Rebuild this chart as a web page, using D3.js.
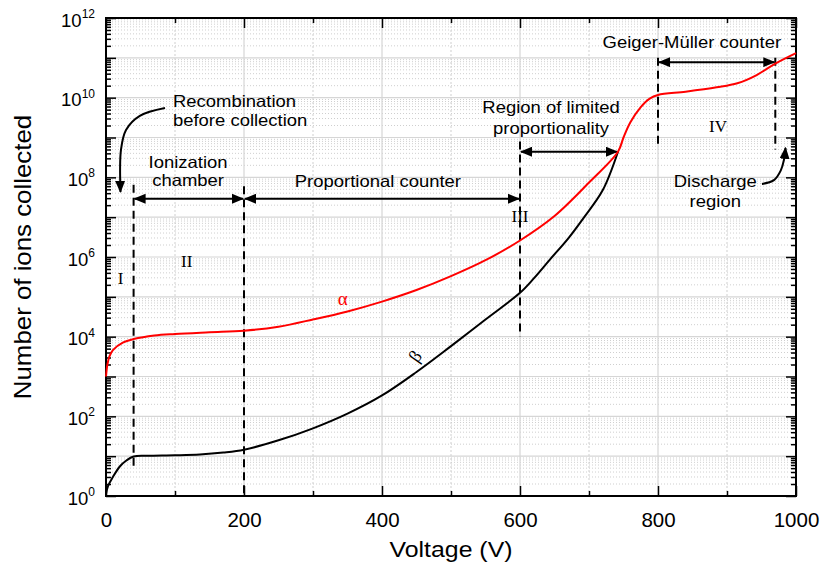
<!DOCTYPE html>
<html>
<head>
<meta charset="utf-8">
<script src="https://cdn.jsdelivr.net/npm/d3@7"></script>
<style>
  body { margin: 0; background: #fff; }
  svg { display: block; font-family: "Liberation Sans", Arial, sans-serif; }
</style>
</head>
<body>
<div id="chart"></div>
<script>
// Gas-filled detector regions: ions collected vs. applied voltage (log y).
var alphaVolt = [0, 2, 5, 10, 25, 40, 70, 100, 150, 200, 250, 300, 350, 400, 450, 500, 550,
                 600, 650, 700, 742, 750, 760, 775, 788, 800, 840, 885, 915, 943, 970, 1000];
var alphaIons = [1.0e3, 2.0e3, 3.2e3, 4.6e3, 7.2e3, 8.7e3, 1.07e4, 1.17e4, 1.29e4, 1.41e4,
                 1.78e4, 2.7e4, 4.3e4, 7.6e4, 1.48e5, 3.3e5, 8.3e5, 2.6e6, 1.07e7, 7.4e7,
                 4.4e8, 1.0e9, 2.4e9, 5.8e9, 9.5e9, 1.17e10, 1.41e10, 1.82e10, 2.3e10,
                 3.7e10, 7.2e10, 1.32e11];

var betaVolt = [0, 3, 10, 20, 30, 40, 60, 100, 136, 170, 200, 250, 300, 350, 400, 450, 500,
                550, 600, 620, 643, 670, 692, 720, 742];
var betaIons = [1.12, 1.8, 3.0, 5.5, 7.9, 9.8, 10.2, 10.5, 11.0, 12.3, 14.5, 25, 50, 117, 335,
                1.3e3, 5.8e3, 2.7e4, 1.26e5, 2.9e5, 8.5e5, 2.95e6, 9.5e6, 4.8e7, 4.4e8];

var xMajor = [0, 200, 400, 600, 800, 1000];
var xMinor = [100, 300, 500, 700, 900];
var yExponents = [0, 1, 2, 3, 4, 5, 6, 7, 8, 9, 10, 11, 12];
var yLabelExponents = [0, 2, 4, 6, 8, 10, 12];

// region boundaries (dashed): voltage, top and bottom in ion counts
var boundaryVolt = [40, 200, 600, 800, 970];
var boundaryTop = [6.5e7, 6.0e7, 7.9e8, 1.0e11, 1.0e11];
var boundaryBottom = [5.0, 1, 1.0e4, 5.2e8, 5.0e8];

// double-headed span arrows: from, to, level
var spanFrom = [40, 200, 600, 800];
var spanTo = [200, 600, 742, 970];
var spanLevel = [2.9e7, 2.9e7, 4.4e8, 7.8e10];

// annotation texts: lines, voltage, ion count (baseline), anchor
var notes = [
  { text: "Recombination", v: 97, n: 5.9e9, anchor: "start" },
  { text: "before collection", v: 97, n: 2.0e9, anchor: "start" },
  { text: "Ionization", v: 119, n: 1.7e8, anchor: "middle" },
  { text: "chamber", v: 119, n: 5.9e7, anchor: "middle" },
  { text: "Proportional counter", v: 394, n: 5.6e7, anchor: "middle" },
  { text: "Region of limited", v: 645, n: 4.2e9, anchor: "middle" },
  { text: "proportionality", v: 645, n: 1.23e9, anchor: "middle" },
  { text: "Geiger-Müller counter", v: 849, n: 1.78e11, anchor: "middle" },
  { text: "Discharge", v: 883, n: 5.8e7, anchor: "middle" },
  { text: "region", v: 883, n: 1.78e7, anchor: "middle" }
];
var romanText = ["I", "II", "III", "IV"];
var romanVolt = [21, 117, 600, 887];
var romanIons = [2.1e5, 5.5e5, 7.4e6, 1.35e9];

// curved pointer arrows (voltage, ion count)
var recombArrow = [[85.5, 5.5e9], [49, 3.5e9], [29, 1.55e9], [21.7, 4.9e8], [21, 4.3e7]];
var dischargeArrow = [[950.7, 6.8e7], [968, 8.5e7], [978, 1.5e8], [982.6, 2.75e8], [984.8, 5.5e8]];

var W = 821, H = 568;
var m = { top: 18, right: 25, bottom: 72, left: 106 };

var svg = d3.select("#chart").append("svg").attr("width", W).attr("height", H);

var x = d3.scaleLinear().domain([0, 1000]).range([m.left, W - m.right]);
var y = d3.scaleLog().domain([1, 1e12]).range([H - m.bottom, m.top]);

var yMajorVals = yExponents.map(function (e) { return Math.pow(10, e); });
var yMinorVals = [];
yExponents.slice(0, -1).forEach(function (e) {
  for (var k = 2; k <= 9; k++) yMinorVals.push(k * Math.pow(10, e));
});

var defs = svg.append("defs");
defs.append("marker")
  .attr("id", "head").attr("viewBox", "0 0 12 10")
  .attr("refX", 11).attr("refY", 5)
  .attr("markerWidth", 12).attr("markerHeight", 10)
  .attr("markerUnits", "userSpaceOnUse")
  .attr("orient", "auto-start-reverse")
  .append("path").attr("d", "M0,0L12,5L0,10Z").attr("fill", "#000");

// -- grid ---------------------------------------------------------------
var grid = svg.append("g");
grid.selectAll(".ymin").data(yMinorVals).join("line")
  .attr("x1", x(0)).attr("x2", x(1000))
  .attr("y1", y).attr("y2", y)
  .attr("stroke", "#cfcfcf").attr("stroke-width", 1).attr("stroke-dasharray", "1,2");
grid.selectAll(".xmin").data(xMinor).join("line")
  .attr("x1", x).attr("x2", x)
  .attr("y1", y(1)).attr("y2", y(1e12))
  .attr("stroke", "#cfcfcf").attr("stroke-width", 1).attr("stroke-dasharray", "2,2");
grid.selectAll(".ymaj").data(yMajorVals).join("line")
  .attr("x1", x(0)).attr("x2", x(1000))
  .attr("y1", y).attr("y2", y)
  .attr("stroke", "#d6d6d6").attr("stroke-width", 1.2);
grid.selectAll(".xmaj").data(xMajor).join("line")
  .attr("x1", x).attr("x2", x)
  .attr("y1", y(1)).attr("y2", y(1e12))
  .attr("stroke", "#d6d6d6").attr("stroke-width", 1.2);

// -- axes: all ticks point inward --------------------------------------
function noDomain(g) { g.select(".domain").remove(); g.selectAll("line").attr("stroke-width", 1.5); }

svg.append("g").attr("transform", "translate(0," + y(1) + ")")
  .call(d3.axisBottom(x).tickValues(xMinor).tickSize(-5).tickFormat(""))
  .call(noDomain);
svg.append("g").attr("transform", "translate(0," + y(1) + ")")
  .call(d3.axisBottom(x).tickValues(xMajor).tickSize(-10).tickPadding(16).tickFormat(d3.format("d")))
  .call(noDomain)
  .call(function (g) {
    g.selectAll("text").attr("font-size", 20.5).attr("fill", "#000")
      .attr("font-family", "Liberation Sans, Arial, sans-serif");
  });
svg.append("g").attr("transform", "translate(0," + y(1e12) + ")")
  .call(d3.axisTop(x).tickValues(xMinor).tickSize(-5).tickFormat(""))
  .call(noDomain);
svg.append("g").attr("transform", "translate(0," + y(1e12) + ")")
  .call(d3.axisTop(x).tickValues(xMajor).tickSize(-10).tickFormat(""))
  .call(noDomain);

[[d3.axisLeft, x(0)], [d3.axisRight, x(1000)]].forEach(function (a) {
  svg.append("g").attr("transform", "translate(" + a[1] + ",0)")
    .call(a[0](y).tickValues(yMinorVals).tickSize(-5).tickFormat(""))
    .call(noDomain);
  svg.append("g").attr("transform", "translate(" + a[1] + ",0)")
    .call(a[0](y).tickValues(yMajorVals).tickSize(-10).tickFormat(""))
    .call(noDomain);
});

var yLabels = svg.append("g");
yLabelExponents.forEach(function (e) {
  var t = yLabels.append("text")
    .attr("x", x(0) - 11).attr("y", y(Math.pow(10, e)) + 8.5)
    .attr("text-anchor", "end").attr("fill", "#000");
  t.append("tspan").attr("font-size", 18.5).text("10");
  t.append("tspan").attr("font-size", 12).attr("dy", -8.5).text(e);
});

svg.append("rect")
  .attr("x", x(0)).attr("y", y(1e12))
  .attr("width", x(1000) - x(0)).attr("height", y(1) - y(1e12))
  .attr("fill", "none").attr("stroke", "#000").attr("stroke-width", 2);

// -- boundaries and span arrows ---------------------------------------
svg.append("g").selectAll("line").data(boundaryVolt).join("line")
  .attr("x1", x).attr("x2", x)
  .attr("y1", function (d, i) { return y(boundaryTop[i]); })
  .attr("y2", function (d, i) { return y(boundaryBottom[i]); })
  .attr("stroke", "#000").attr("stroke-width", 2).attr("stroke-dasharray", "8,5");

svg.append("g").selectAll("line").data(spanFrom).join("line")
  .attr("x1", function (d) { return x(d) + 1; })
  .attr("x2", function (d, i) { return x(spanTo[i]) - 1; })
  .attr("y1", function (d, i) { return y(spanLevel[i]); })
  .attr("y2", function (d, i) { return y(spanLevel[i]); })
  .attr("stroke", "#000").attr("stroke-width", 2)
  .attr("marker-start", "url(#head)").attr("marker-end", "url(#head)");

var pointer = d3.line()
  .x(function (d) { return x(d[0]); })
  .y(function (d) { return y(d[1]); })
  .curve(d3.curveCatmullRom);
[recombArrow, dischargeArrow].forEach(function (pts) {
  svg.append("path").attr("d", pointer(pts))
    .attr("fill", "none").attr("stroke", "#000").attr("stroke-width", 2)
    .attr("marker-end", "url(#head)");
});

// -- curves ------------------------------------------------------------
var curve = d3.line()
  .x(function (d) { return x(d[0]); })
  .y(function (d) { return y(d[1]); })
  .curve(d3.curveCatmullRom.alpha(0.5));

svg.append("path")
  .attr("d", curve(d3.zip(betaVolt, betaIons)))
  .attr("fill", "none").attr("stroke", "#000").attr("stroke-width", 2);
svg.append("path")
  .attr("d", curve(d3.zip(alphaVolt, alphaIons)))
  .attr("fill", "none").attr("stroke", "#ff0000").attr("stroke-width", 2);

// -- text --------------------------------------------------------------
var txt = svg.append("g").attr("fill", "#000");
notes.forEach(function (d) {
  txt.append("text")
    .attr("transform", "translate(" + x(d.v) + "," + y(d.n) + ") scale(1.12,1)")
    .attr("text-anchor", d.anchor).attr("font-size", 16.5).text(d.text);
});

romanText.forEach(function (r, i) {
  txt.append("text")
    .attr("x", x(romanVolt[i])).attr("y", y(romanIons[i]))
    .attr("text-anchor", "middle")
    .attr("font-family", "Liberation Serif, Times New Roman, serif")
    .attr("font-size", 17).text(r);
});

txt.append("text")
  .attr("x", x(343)).attr("y", y(6.3e4))
  .attr("text-anchor", "middle").attr("fill", "#ff0000")
  .attr("font-family", "Liberation Serif, serif")
  .attr("font-size", 19).text("α");
txt.append("text")
  .attr("transform", "translate(" + x(448) + "," + y(3.2e3) + ") rotate(-55)")
  .attr("text-anchor", "middle").attr("dominant-baseline", "central")
  .attr("font-family", "Liberation Serif, serif")
  .attr("font-size", 18).text("β");

// axis titles
svg.append("text")
  .attr("transform", "translate(" + ((x(0) + x(1000)) / 2) + ",557) scale(1.13,1)")
  .attr("text-anchor", "middle").attr("font-size", 22).text("Voltage (V)");
svg.append("text")
  .attr("transform", "translate(31," + ((y(1) + y(1e12)) / 2) + ") rotate(-90) scale(1.1,1)")
  .attr("text-anchor", "middle").attr("font-size", 23.5).text("Number of ions collected");
</script>
</body>
</html>
